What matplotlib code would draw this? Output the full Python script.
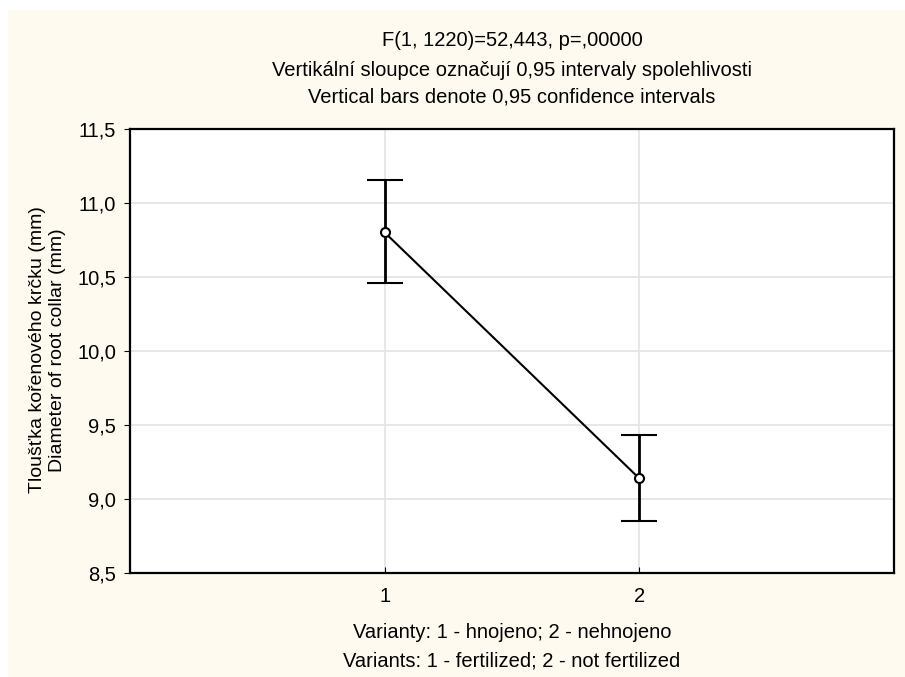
import matplotlib
matplotlib.use("Agg")
import matplotlib.pyplot as plt
from matplotlib.patches import Rectangle

plt.rcParams["font.family"] = ["Liberation Sans", "DejaVu Sans"]

# data
variants = [1, 2]
means = [10.80, 9.14]
ci_low = [10.46, 8.85]
ci_high = [11.155, 9.43]

title_lines = ["F(1, 1220)=52,443, p=,00000",
               "Vertikální sloupce označují 0,95 intervaly spolehlivosti",
               "Vertical bars denote 0,95 confidence intervals"]
ylabel_lines = ["Tloušťka kořenového krčku (mm)", "Diameter of root collar (mm)"]
xlabel_lines = ["Varianty: 1 - hnojeno; 2 - nehnojeno", "Variants: 1 - fertilized; 2 - not fertilized"]
yticks = [8.5, 9.0, 9.5, 10.0, 10.5, 11.0, 11.5]

W, H = 905, 677
fig = plt.figure(figsize=(W / 100, H / 100), dpi=100, facecolor="white")
# cream background panel (small white margin top/left like the original)
fig.patches.append(Rectangle((8 / W, 0), 1, 1 - 10 / H, transform=fig.transFigure,
                             facecolor="#fffaf0", edgecolor="none", zorder=-5))

ax = fig.add_axes([130 / W, 1 - 573.3 / H, (894 - 130) / W, (573.3 - 128.7) / H])
ax.set_zorder(2)
ax.set_facecolor("white")

err = [[m - lo for m, lo in zip(means, ci_low)], [hi - m for m, hi in zip(means, ci_high)]]
ax.errorbar(variants, means, yerr=err, color="black", linewidth=1.5, elinewidth=2,
            capsize=13, capthick=2, marker="o", markersize=6.5, markerfacecolor="white",
            markeredgecolor="black", markeredgewidth=1.5, zorder=3)

ax.set_xlim(0, 3)
ax.set_ylim(8.5, 11.5)
ax.set_xticks(variants)
ax.set_xticklabels([str(v) for v in variants])
ax.set_yticks(yticks)
ax.set_yticklabels([f"{t:.1f}".replace(".", ",") for t in yticks])
ax.grid(True, color="#e3e3e3", linewidth=1.2)
ax.set_axisbelow(True)
for s in ax.spines.values():
    s.set_linewidth(1.6)
ax.tick_params(axis="x", direction="in", length=4, labelsize=14.5, pad=10)
ax.tick_params(axis="y", direction="out", length=4, labelsize=14.5, pad=6)

# titles
for txt, y in zip(title_lines, [40, 70, 97]):
    fig.text(512 / W, 1 - y / H, txt, ha="center", va="center", fontsize=14.5)
# x label, two lines
for txt, y in zip(xlabel_lines, [633, 661]):
    fig.text(512 / W, 1 - y / H, txt, ha="center", va="center", fontsize=14.5)
# y label, two lines
for txt, x in zip(ylabel_lines, [37, 57]):
    fig.text(x / W, 1 - 350 / H, txt, ha="center", va="center", rotation=90, fontsize=14)

fig.savefig("out.png", dpi=100, facecolor=fig.get_facecolor())
